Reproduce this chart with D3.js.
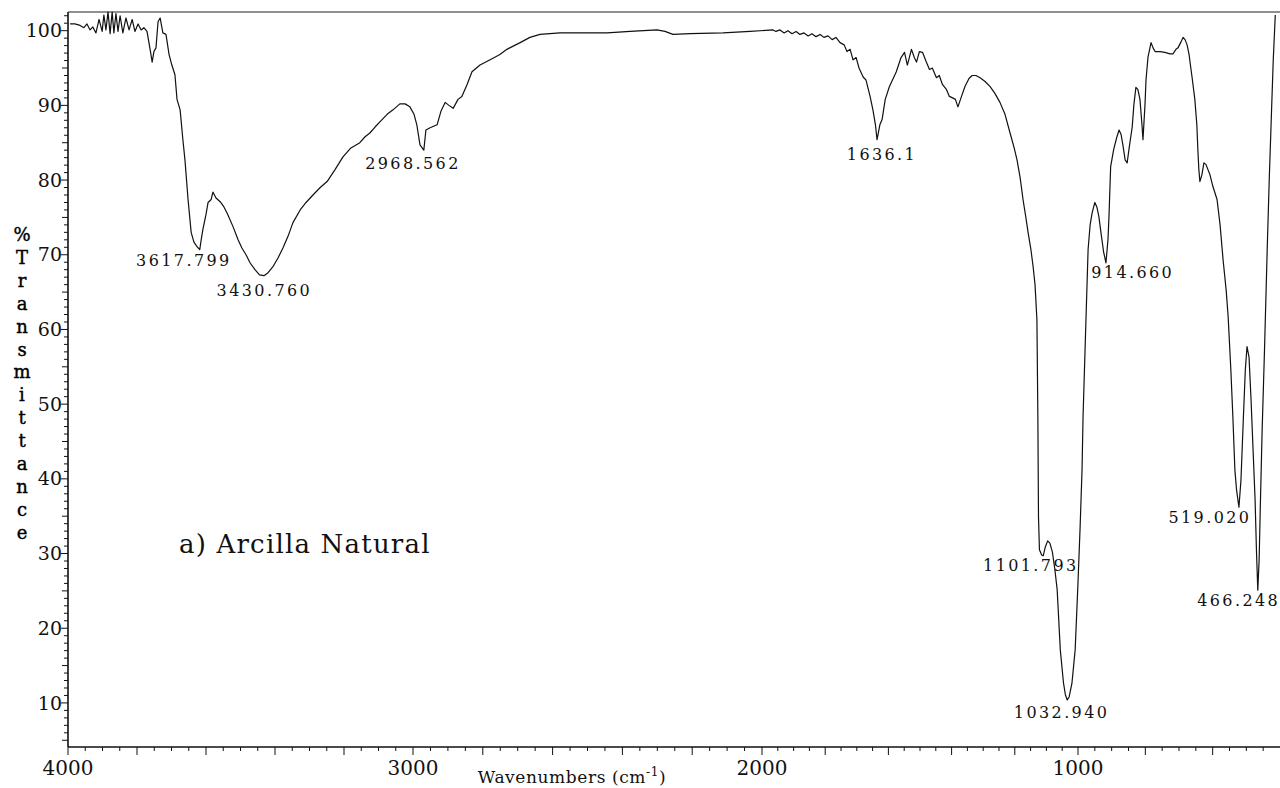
<!DOCTYPE html>
<html>
<head>
<meta charset="utf-8">
<script src="https://cdn.jsdelivr.net/npm/d3@7"></script>
<style>
  html, body { margin: 0; padding: 0; background: #fff; }
  svg { display: block; font-family: "DejaVu Serif", serif; }
</style>
</head>
<body>
<div id="chart"></div>
<script>
// --- data ---
const wavenumbers = [
  3994, 3980, 3965, 3954, 3945, 3936, 3928, 3919, 3910, 3901, 3896, 3890, 3884, 3878, 3872, 3867,
  3861, 3855, 3849, 3841, 3832, 3823, 3814, 3806, 3797, 3788, 3780, 3771, 3762, 3756, 3751, 3745,
  3739, 3733, 3725, 3716, 3707, 3699, 3690, 3684, 3675, 3667, 3661, 3652, 3643, 3635, 3626, 3618,
  3614, 3609, 3600, 3594, 3585, 3580, 3571, 3559, 3548, 3539, 3522, 3507, 3496, 3484, 3472, 3458,
  3445, 3432, 3420, 3406, 3391, 3377, 3362, 3348, 3327, 3310, 3290, 3269, 3249, 3226, 3203, 3180,
  3154, 3139, 3125, 3110, 3096, 3075, 3058, 3038, 3023, 3009, 2997, 2989, 2980, 2969, 2963, 2951,
  2931, 2920, 2908, 2897, 2885, 2871, 2860, 2845, 2831, 2808, 2779, 2751, 2731, 2693, 2665, 2636,
  2579, 2507, 2444, 2378, 2301, 2278, 2255, 2206, 2112, 2034, 1965, 1956, 1943, 1930, 1918, 1905,
  1892, 1880, 1867, 1854, 1842, 1829, 1816, 1804, 1791, 1778, 1766, 1753, 1740, 1731, 1721, 1712,
  1702, 1693, 1680, 1671, 1658, 1649, 1641, 1636, 1627, 1620, 1610, 1597, 1575, 1560, 1549, 1540,
  1527, 1518, 1511, 1502, 1492, 1480, 1470, 1461, 1448, 1439, 1429, 1416, 1407, 1397, 1388, 1380,
  1367, 1358, 1345, 1335, 1323, 1310, 1294, 1278, 1263, 1247, 1231, 1215, 1202, 1193, 1183, 1174,
  1165, 1158, 1149, 1142, 1136, 1130, 1127, 1125, 1122, 1115, 1110, 1104, 1096, 1089, 1081, 1073,
  1066, 1056, 1046, 1040, 1034, 1028, 1019, 1009, 1000, 994, 988, 985, 979, 973, 970, 964,
  958, 950, 944, 938, 931, 924, 917, 911, 908, 903, 894, 885, 878, 872, 866, 860,
  854, 848, 839, 834, 828, 822, 816, 810, 807, 801, 798, 792, 783, 777, 771, 756,
  742, 727, 718, 709, 703, 694, 688, 682, 676, 670, 667, 661, 653, 647, 644, 641,
  638, 632, 626, 620, 614, 608, 599, 587, 578, 569, 560, 554, 546, 540, 534, 529,
  522, 516, 509, 503, 498, 492, 486, 480, 474, 470, 466, 462, 458, 453, 446, 438,
  432, 426, 420, 414
];
const transmittance = [
  100.9, 100.9, 100.7, 100.4, 100.9, 100.1, 100.5, 99.7, 101.5, 99.9, 102.1, 100.1, 102.5, 99.6, 102.5, 99.7,
  102.3, 99.9, 102.0, 99.7, 101.7, 100.1, 101.5, 99.9, 100.9, 100.1, 100.4, 99.9, 97.5, 95.8, 97.2, 97.7,
  101.2, 101.7, 99.7, 99.5, 96.8, 95.4, 94.1, 90.8, 89.4, 85.4, 82.7, 77.4, 73.0, 71.7, 71.1, 70.7,
  72.0, 73.4, 75.4, 77.0, 77.4, 78.4, 77.6, 77.1, 76.4, 75.6, 73.8, 72.0, 70.9, 70.0, 68.9, 68.0,
  67.3, 67.2, 67.6, 68.4, 69.6, 70.9, 72.5, 74.3, 76.0, 77.0, 78.0, 79.0, 79.8, 81.4, 83.1, 84.3,
  85.0, 85.8, 86.3, 87.1, 87.8, 88.8, 89.4, 90.2, 90.2, 89.8, 88.8, 87.4, 84.7, 84.0, 86.7, 87.0,
  87.4, 89.2, 90.4, 90.0, 89.6, 90.8, 91.2, 92.8, 94.5, 95.4, 96.1, 96.8, 97.5, 98.4, 99.1, 99.5,
  99.7, 99.7, 99.7, 99.9, 100.1, 99.9, 99.5, 99.6, 99.7, 99.9, 100.1, 99.9, 100.1, 99.7, 100.0, 99.6,
  99.9, 99.5, 99.7, 99.3, 99.6, 99.2, 99.5, 99.1, 99.3, 98.8, 99.1, 98.4, 98.1, 97.2, 97.5, 96.1,
  96.4, 95.0, 93.8, 93.4, 91.2, 89.4, 87.4, 85.4, 87.4, 88.1, 90.8, 92.5, 94.5, 96.4, 97.1, 95.4,
  97.5, 96.4, 95.8, 97.2, 97.1, 95.8, 94.8, 95.0, 93.7, 94.0, 92.8, 92.1, 91.2, 91.0, 90.8, 89.8,
  91.4, 92.5, 93.6, 94.0, 94.0, 93.7, 93.2, 92.5, 91.6, 90.4, 88.8, 86.3, 84.3, 82.7, 80.3, 77.4,
  75.0, 73.0, 70.7, 68.4, 66.0, 61.3, 48.3, 34.9, 30.5, 29.8, 29.7, 30.8, 31.7, 31.4, 30.2, 27.8,
  25.2, 17.1, 12.7, 11.1, 10.4, 10.8, 12.7, 17.1, 26.1, 33.2, 41.2, 48.3, 57.3, 66.3, 70.7, 74.0,
  75.6, 77.0, 76.4, 75.1, 72.7, 70.4, 68.9, 72.0, 75.1, 81.8, 84.1, 85.7, 86.7, 86.1, 84.5, 82.7,
  82.3, 84.3, 87.1, 90.1, 92.4, 92.1, 90.8, 87.4, 85.4, 90.1, 93.4, 96.5, 98.4, 97.7, 97.2, 97.2,
  97.1, 96.9, 96.9, 97.5, 97.7, 98.5, 99.1, 98.8, 98.1, 96.8, 95.7, 93.7, 90.8, 87.4, 84.1, 81.4,
  79.8, 80.7, 82.3, 82.1, 81.4, 80.7, 79.1, 77.4, 74.0, 69.3, 65.3, 61.7, 54.6, 48.3, 41.2, 38.5,
  36.2, 39.8, 47.9, 54.6, 57.7, 56.3, 50.6, 43.9, 37.2, 30.5, 25.1, 29.1, 37.2, 46.6, 57.3, 70.7,
  80.0, 88.1, 96.1, 102.1
];

// labelled peaks
const peakLabels = ["3617.799", "3430.760", "2968.562", "1636.1", "914.660", "1101.793", "519.020", "466.248", "1032.940"];
const peakWavenumbers = [3617.799, 3430.760, 2968.562, 1636.1, 914.660, 1101.793, 519.020, 466.248, 1032.940];
const peakTransmittance = [70.7, 67.2, 84.1, 85.4, 68.9, 29.7, 36.2, 25.1, 10.4];

const xTickLabels = [4000, 3000, 2000, 1000];
const yTickLabels = [10, 20, 30, 40, 50, 60, 70, 80, 90, 100];
const yTitleLetters = ["%", "T", "r", "a", "n", "s", "m", "i", "t", "t", "a", "n", "c", "e"];

// label nudges (px) relative to the peak point: [dx, dy]
const labelNudge = [[-16, 16], [0, 20], [-11, 20], [5, 20], [26, 15], [-15, 15], [-30, 16], [-19, 16], [-6, 18]];

// 1. Set up the svg
const width = 1280;
const height = 788;

const svg = d3.select("#chart")
  .append("svg")
  .attr("width", width)
  .attr("height", height);

// 2. Scales (the scanned chart is slightly uneven, so use a piecewise range)
const x = d3.scaleLinear()
  .domain([4000, 3000, 2000, 1000, 400])
  .range([68, 413, 762, 1078, 1280]);

const y = d3.scaleLinear()
  .domain([4.1, 102.5])
  .range([747, 12]);

// 3. Axes frame: left, bottom, top
svg.append("line")
  .attr("x1", x(4000)).attr("x2", x(4000))
  .attr("y1", y(102.5)).attr("y2", y(4.1))
  .attr("stroke", "#111").attr("stroke-width", 1.6);

svg.append("line")
  .attr("x1", x(4000)).attr("x2", x(400))
  .attr("y1", y(4.1)).attr("y2", y(4.1))
  .attr("stroke", "#111").attr("stroke-width", 1.4);

svg.append("line")
  .attr("x1", x(4000)).attr("x2", x(400))
  .attr("y1", y(102.5)).attr("y2", y(102.5))
  .attr("stroke", "#222").attr("stroke-width", 1.2);

// 4. Y ticks (every 1 %, longer every 5 and 10)
const yTicks = d3.range(5, 103, 1);
svg.selectAll(".ytick")
  .data(yTicks)
  .join("line")
  .attr("class", "ytick")
  .attr("x1", x(4000))
  .attr("x2", d => x(4000) - (d % 10 === 0 ? 7 : d % 5 === 0 ? 6 : 4))
  .attr("y1", d => y(d)).attr("y2", d => y(d))
  .attr("stroke", "#111").attr("stroke-width", 1);

svg.selectAll(".ylabel")
  .data(yTickLabels)
  .join("text")
  .attr("class", "ylabel")
  .attr("x", x(4000) - 6)
  .attr("y", d => y(d))
  .attr("dy", "0.35em")
  .attr("text-anchor", "end")
  .style("font-size", "19px")
  .style("fill", "#111")
  .text(d => d);

// 5. X ticks (every 50, longer every 200)
const xTicks = d3.range(4000, 449, -50);
svg.selectAll(".xtick")
  .data(xTicks)
  .join("line")
  .attr("class", "xtick")
  .attr("x1", d => x(d)).attr("x2", d => x(d))
  .attr("y1", y(4.1))
  .attr("y2", d => y(4.1) + (d % 200 === 0 ? 8 : 4))
  .attr("stroke", "#111").attr("stroke-width", 1);

svg.selectAll(".xlabel")
  .data(xTickLabels)
  .join("text")
  .attr("class", "xlabel")
  .attr("x", d => x(d))
  .attr("y", 775)
  .attr("text-anchor", "middle")
  .style("font-size", "20px")
  .style("fill", "#111")
  .text(d => d);

// 6. Axis titles
const xTitle = svg.append("text")
  .attr("x", 572)
  .attr("y", 783)
  .attr("text-anchor", "middle")
  .style("font-size", "17px")
  .style("letter-spacing", "0.6px")
  .style("fill", "#111");
xTitle.append("tspan").text("Wavenumbers (cm");
xTitle.append("tspan").attr("dy", -7).style("font-size", "12px").text("-1");
xTitle.append("tspan").attr("dy", 7).text(")");

svg.selectAll(".ytitle")
  .data(yTitleLetters)
  .join("text")
  .attr("class", "ytitle")
  .attr("x", 22)
  .attr("y", (d, i) => 241 + i * 22.9)
  .attr("text-anchor", "middle")
  .style("font-size", "18px")
  .style("fill", "#000")
  .style("stroke", "#000")
  .style("stroke-width", 0.4)
  .text(d => d);

// 7. Spectrum line
const points = wavenumbers.map((w, i) => [w, transmittance[i]]);
svg.append("path")
  .datum(points)
  .attr("d", d3.line().x(d => x(d[0])).y(d => y(d[1])))
  .attr("fill", "none")
  .attr("stroke", "#111")
  .attr("stroke-width", 1.2)
  .attr("stroke-linejoin", "round");

// 8. Peak labels
svg.selectAll(".peak")
  .data(peakLabels)
  .join("text")
  .attr("class", "peak")
  .attr("x", (d, i) => x(peakWavenumbers[i]) + labelNudge[i][0])
  .attr("y", (d, i) => y(peakTransmittance[i]) + labelNudge[i][1])
  .attr("text-anchor", "middle")
  .style("font-size", "16px")
  .style("letter-spacing", "2.4px")
  .style("fill", "#111")
  .text(d => d);

// 9. Sample caption
svg.append("text")
  .attr("x", 179)
  .attr("y", 553)
  .style("font-size", "26px")
  .style("letter-spacing", "1.2px")
  .style("fill", "#111")
  .text("a) Arcilla Natural");
</script>
</body>
</html>
